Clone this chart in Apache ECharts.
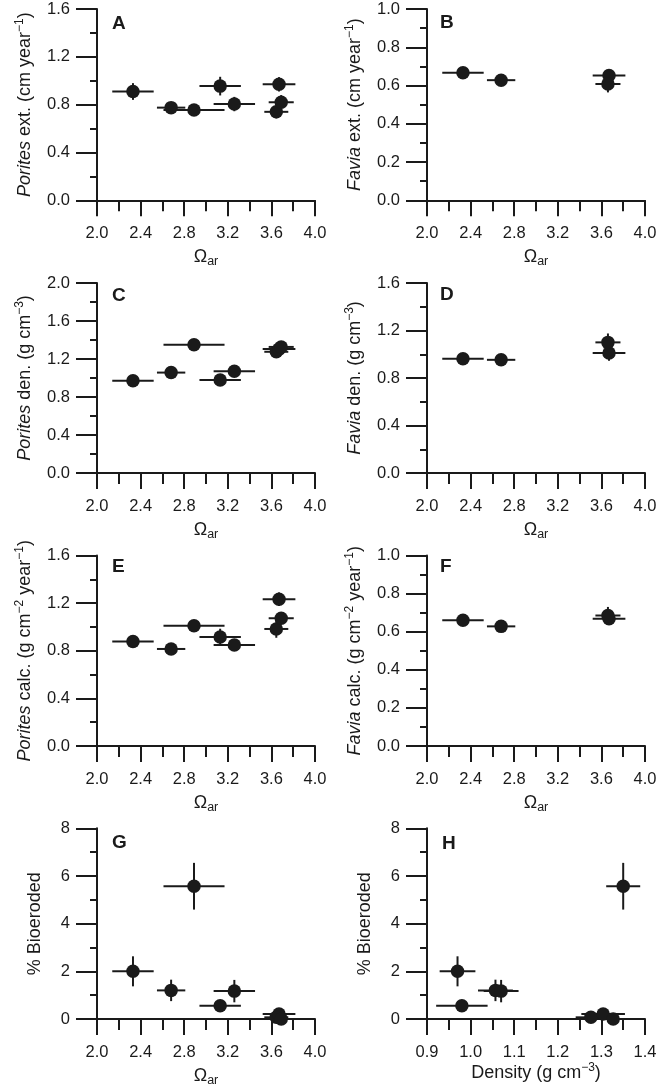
<!DOCTYPE html>
<html><head><meta charset="utf-8">
<script src="https://cdn.jsdelivr.net/npm/echarts@6/dist/echarts.min.js"></script>
<style>html,body{margin:0;padding:0;background:#fff}#c{width:660px;height:1088px}</style>
</head><body><div id="c"></div>
<script>
// ---------- Porites sites (8) ----------
const poritesOmega      = [2.33, 2.68, 2.89, 3.13, 3.26, 3.645, 3.67, 3.69];
const poritesOmegaErr   = [0.19, 0.13, 0.28, 0.19, 0.19, 0.11, 0.15, 0.115];
const poritesExt        = [0.91, 0.775, 0.755, 0.955, 0.805, 0.74, 0.97, 0.82];
const poritesExtErr     = [0.07, 0.03, 0.03, 0.078, 0.06, 0.055, 0.06, 0.06];
const poritesDen        = [0.97, 1.057, 1.35, 0.98, 1.07, 1.276, 1.304, 1.327];
const poritesDenErr     = [0.041, 0.04, 0.039, 0.059, 0.04, 0.035, 0.05, 0.03];
const poritesCalc       = [0.877, 0.815, 1.01, 0.915, 0.848, 0.983, 1.233, 1.073];
const poritesCalcErr    = [0.05, 0.02, 0.03, 0.07, 0.05, 0.074, 0.057, 0.04];
const bioeroded         = [2.0, 1.2, 5.57, 0.56, 1.17, 0.07, 0.21, 0.0];
const bioerodedErr      = [0.63, 0.45, 0.98, 0.08, 0.47, 0.05, 0.05, 0.05];
// ---------- Favia sites (4) ----------
const faviaOmega    = [2.33, 2.68, 3.67, 3.66];
const faviaOmegaErr = [0.19, 0.13, 0.15, 0.115];
const faviaExt      = [0.667, 0.628, 0.652, 0.608];
const faviaExtErr   = [0.02, 0.015, 0.025, 0.044];
const faviaDen      = [0.962, 0.953, 1.01, 1.10];
const faviaDenErr   = [0.02, 0.02, 0.065, 0.075];
const faviaCalc     = [0.66, 0.628, 0.668, 0.685];
const faviaCalcErr  = [0.01, 0.01, 0.02, 0.045];
// ---------- axis labels ----------
const panelLetters = ['A','B','C','D','E','F','G','H'];
const omegaTicks = [2.0, 4.0, 0.4];
const densityTicks = [0.9, 1.4, 0.1];

const C = '#1a1a1a';
const FF = '"Liberation Sans", Arial, Helvetica, sans-serif';
const lefts = [97, 427];
const W = 218;
const tops = [9, 283, 555.5, 828.3];
const heights = [191.3, 190, 190.5, 190.7];

const OMEGA = '{o|Ω}{sub|ar}';
const panels = [
  {x: poritesOmega, xe: poritesOmegaErr, y: poritesExt, ye: poritesExtErr, ymax: 1.6, yint: 0.4, yname: '{i|Porites} ext. (cm year{s|−1})', xt: omegaTicks, xname: OMEGA},
  {x: faviaOmega, xe: faviaOmegaErr, y: faviaExt, ye: faviaExtErr, ymax: 1.0, yint: 0.2, yname: '{i|Favia} ext. (cm year{s|−1})', xt: omegaTicks, xname: OMEGA},
  {x: poritesOmega, xe: poritesOmegaErr, y: poritesDen, ye: poritesDenErr, ymax: 2.0, yint: 0.4, yname: '{i|Porites} den. (g cm{s|−3})', xt: omegaTicks, xname: OMEGA},
  {x: faviaOmega, xe: faviaOmegaErr, y: faviaDen, ye: faviaDenErr, ymax: 1.6, yint: 0.4, yname: '{i|Favia} den. (g cm{s|−3})', xt: omegaTicks, xname: OMEGA},
  {x: poritesOmega, xe: poritesOmegaErr, y: poritesCalc, ye: poritesCalcErr, ymax: 1.6, yint: 0.4, yname: '{i|Porites} calc. (g cm{s|−2} year{s|−1})', xt: omegaTicks, xname: OMEGA},
  {x: faviaOmega, xe: faviaOmegaErr, y: faviaCalc, ye: faviaCalcErr, ymax: 1.0, yint: 0.2, yname: '{i|Favia} calc. (g cm{s|−2} year{s|−1})', xt: omegaTicks, xname: OMEGA},
  {x: poritesOmega, xe: poritesOmegaErr, y: bioeroded, ye: bioerodedErr, ymax: 8, yint: 2, yname: '% Bioeroded', xt: omegaTicks, xname: OMEGA, intY: true},
  {x: poritesDen, xe: poritesDenErr, y: bioeroded, ye: bioerodedErr, ymax: 8, yint: 2, yname: '% Bioeroded', xt: densityTicks, xname: 'Density (g cm{s|−3})', intY: true, dens: true}
];
const letterPos = [[112,18],[440,17],[112,290],[440,289],[112,561],[440,561],[112,837],[442,838]];

const richStyles = {
  i: {fontStyle: 'italic', fontSize: 18, fontFamily: FF, color: C, lineHeight: 22},
  s: {fontSize: 12, fontFamily: FF, color: C, verticalAlign: 'top', lineHeight: 13},
  o: {fontSize: 18, fontFamily: FF, color: C, lineHeight: 22},
  sub: {fontSize: 12.5, fontFamily: FF, color: C, verticalAlign: 'bottom', lineHeight: 9}
};

const grid = [], xAxis = [], yAxis = [], series = [], graphic = [];
panels.forEach((p, i) => {
  const col = i % 2, row = Math.floor(i / 2);
  grid.push({left: lefts[col], top: tops[row], width: W, height: heights[row], containLabel: false});
  const lineStyle = {color: C, width: 2};
  xAxis.push({
    gridIndex: i, type: 'value', min: p.xt[0], max: p.xt[1], interval: p.xt[2],
    axisLine: {show: true, onZero: false, lineStyle},
    axisTick: {show: true, inside: false, length: 16, lineStyle},
    minorTick: {show: true, splitNumber: 2, length: 11, lineStyle},
    splitLine: {show: false}, minorSplitLine: {show: false},
    axisLabel: {margin: 25, fontSize: 16.5, fontFamily: FF, color: C, formatter: v => v.toFixed(1)},
    name: p.xname, nameLocation: 'middle', nameGap: p.dens ? 41 : 46,
    nameTextStyle: {fontSize: 18, fontFamily: FF, color: C, lineHeight: 22, rich: richStyles}
  });
  yAxis.push({
    gridIndex: i, type: 'value', min: 0, max: p.ymax, interval: p.yint,
    axisLine: {show: true, onZero: false, lineStyle},
    axisTick: {show: true, inside: false, length: 21, lineStyle},
    minorTick: {show: true, splitNumber: 2, length: 7, lineStyle},
    splitLine: {show: false}, minorSplitLine: {show: false},
    axisLabel: {margin: 27, fontSize: 16.5, fontFamily: FF, color: C, formatter: v => p.intY ? String(Math.round(v)) : v.toFixed(1)},
    name: p.yname, nameLocation: 'middle', nameGap: p.intY ? 51 : 61, nameRotate: 90,
    nameTextStyle: {fontSize: 18, fontFamily: FF, color: C, lineHeight: 22, rich: richStyles}
  });
  const data = p.x.map((v, k) => [v, p.y[k], p.xe[k], p.ye[k]]);
  series.push({
    type: 'custom', xAxisIndex: i, yAxisIndex: i, data, silent: true, z: 2, clip: false,
    encode: {x: 0, y: 1},
    renderItem(params, api) {
      const xv = api.value(0), yv = api.value(1), dx = api.value(2), dy = api.value(3);
      const a = api.coord([xv - dx, yv]), b = api.coord([xv + dx, yv]);
      const c = api.coord([xv, yv - dy]), d = api.coord([xv, yv + dy]);
      const st = {stroke: C, lineWidth: 2};
      return {type: 'group', children: [
        {type: 'line', shape: {x1: a[0], y1: a[1], x2: b[0], y2: b[1]}, style: st},
        {type: 'line', shape: {x1: c[0], y1: c[1], x2: d[0], y2: d[1]}, style: st}
      ]};
    }
  });
  series.push({
    type: 'scatter', xAxisIndex: i, yAxisIndex: i, data: data.map(d => [d[0], d[1]]),
    symbol: 'circle', symbolSize: 13.5, itemStyle: {color: C, opacity: 1}, z: 3, silent: true
  });
  graphic.push({type: 'text', left: letterPos[i][0], top: letterPos[i][1] - 4,
    style: {text: panelLetters[i], fontSize: 19, fontWeight: 'bold', fontFamily: FF, fill: C}});
});

const chart = echarts.init(document.getElementById('c'), null, {renderer: 'canvas'});
chart.setOption({animation: false, backgroundColor: '#fff', grid, xAxis, yAxis, series, graphic});
</script>
</body></html>
